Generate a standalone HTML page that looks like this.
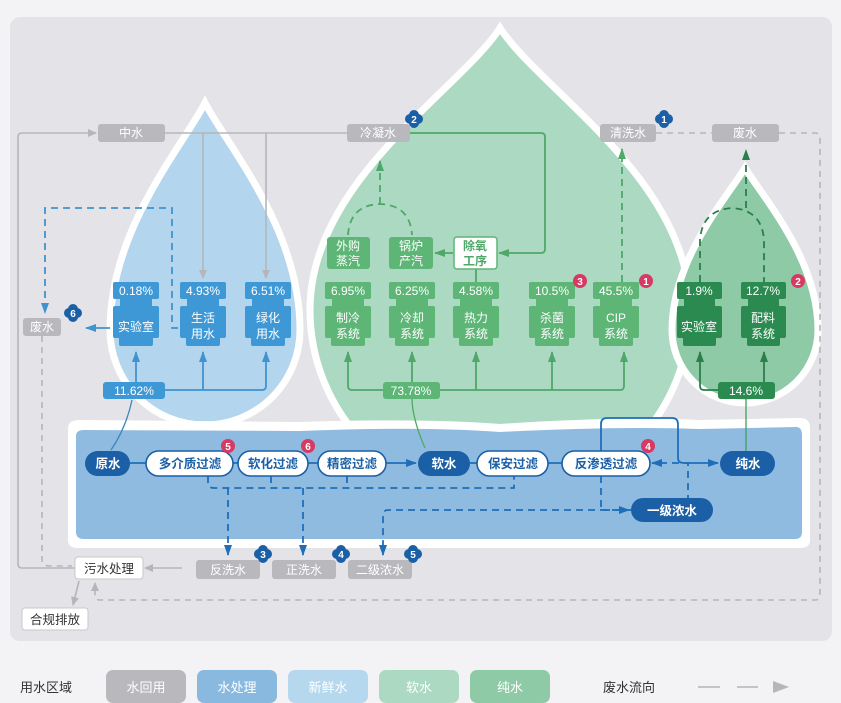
<!DOCTYPE html>
<html><head><meta charset="utf-8"><style>
html,body{margin:0;padding:0;background:#f3f3f5;}
svg{display:block;}
text{font-family:"Liberation Sans","Noto Sans CJK SC",sans-serif;}
</style></head><body>
<svg width="841" height="703" viewBox="0 0 841 703" xmlns="http://www.w3.org/2000/svg">
<defs>
<marker id="ag" markerWidth="10" markerHeight="10" refX="8" refY="5" orient="auto" markerUnits="userSpaceOnUse"><path d="M0,1 L9,5 L0,9 Z" fill="#b5b5ba"/></marker>
<marker id="ab" markerWidth="12" markerHeight="10" refX="10" refY="5" orient="auto" markerUnits="userSpaceOnUse"><path d="M0,1 L11,5 L0,9 Z" fill="#1f6fb8"/></marker>
<marker id="abl" markerWidth="12" markerHeight="10" refX="10" refY="5" orient="auto" markerUnits="userSpaceOnUse"><path d="M0,1 L11,5 L0,9 Z" fill="#3f93d0"/></marker>
<marker id="agr" markerWidth="12" markerHeight="10" refX="10" refY="5" orient="auto" markerUnits="userSpaceOnUse"><path d="M0,1 L11,5 L0,9 Z" fill="#4fa86a"/></marker>
<marker id="adg" markerWidth="12" markerHeight="10" refX="10" refY="5" orient="auto" markerUnits="userSpaceOnUse"><path d="M0,1 L11,5 L0,9 Z" fill="#2a7f4c"/></marker>
<g id="flower"><circle cx="-4" cy="0" r="5"/><circle cx="4" cy="0" r="5"/><circle cx="0" cy="-4" r="5"/><circle cx="0" cy="4" r="5"/></g>
</defs>

<rect x="10" y="17" width="822" height="624" rx="10" fill="#e4e4e8"/>

<!-- drops -->
<path d="M205,103 C230,150 300,230 300,330 A95,95 0 0 1 110,330 C110,230 180,150 205,103 Z" fill="#b3d6ee" stroke="#fff" stroke-width="7"/>
<path d="M500,28 C540,90 690,180 690,310 A190,190 0 0 1 310,310 C310,180 460,90 500,28 Z" fill="#acd9c1" stroke="#fff" stroke-width="7"/>
<path d="M745,168 C765,200 818,260 818,330 A73,73 0 0 1 672,330 C672,260 725,200 745,168 Z" fill="#8ecaa5" stroke="#fff" stroke-width="7"/>

<!-- water treatment panel -->
<path d="M68,428 Q68,420 80,420 L300,422 Q420,418 500,424 Q620,416 700,420 L800,418 Q810,418 810,428 L810,540 Q810,548 800,548 L78,548 Q68,548 68,540 Z" fill="#fff"/>
<path d="M76,436 Q76,430 84,430 L300,431 Q420,426 500,432 Q620,426 700,429 L796,427 Q802,427 802,435 L802,532 Q802,539 795,539 L84,539 Q76,539 76,532 Z" fill="#8fbbe0"/>

<!-- gray lines -->
<g fill="none" stroke="#b5b5ba" stroke-width="1.6">
<path d="M100,568 L22,568 Q18,568 18,564 L18,137 Q18,133 22,133 L96,133" marker-end="url(#ag)"/>
<path d="M165,133 L347,133"/>
<path d="M203,133 L203,278" marker-end="url(#ag)"/>
<path d="M266,133 L266,278" marker-end="url(#ag)"/>
<path d="M182,568 L145,568" marker-end="url(#ag)"/>
<path d="M79,581 L73,605" marker-end="url(#ag)"/>
<path d="M42,336 L42,560 Q42,566 50,566 L72,566" stroke-dasharray="6,5"/>
<path d="M656,133 L712,133 M779,133 L815,133 Q820,133 820,138 L820,595 Q820,600 815,600 L100,600 Q95,600 95,595 L95,583" stroke-dasharray="6,5" marker-end="url(#ag)"/>
</g>

<!-- blue drop lines -->
<g fill="none" stroke="#3f93d0" stroke-width="1.8">
<path d="M165,390 L262,390 Q266,390 266,386 L266,352" marker-end="url(#abl)"/>
<path d="M203,390 L203,352" marker-end="url(#abl)"/>
<path d="M136,382 L136,352" marker-end="url(#abl)"/>
<path d="M111,450 Q126,428 132,400" stroke="#3c86b8" stroke-width="1.3"/>
<path d="M110,328 L86,328" marker-end="url(#abl)"/>
<path d="M178,328 L172,328 L172,208 L45,208 L45,313" stroke-dasharray="7,5" marker-end="url(#abl)"/>
</g>

<!-- green lines -->
<g fill="none" stroke="#4fa86a" stroke-width="1.8">
<path d="M440,390 L620,390 Q624,390 624,386 L624,352" marker-end="url(#agr)"/>
<path d="M383,390 L352,390 Q348,390 348,386 L348,352" marker-end="url(#agr)"/>
<path d="M412,382 L412,352" marker-end="url(#agr)"/>
<path d="M476,390 L476,352" marker-end="url(#agr)"/>
<path d="M552,390 L552,352" marker-end="url(#agr)"/>
<path d="M476,282 L476,268"/>
<path d="M410,133 L541,133 Q545,133 545,137 L545,249 Q545,253 541,253 L499,253" marker-end="url(#agr)"/>
<path d="M453,253 L435,253" marker-end="url(#agr)"/>
<path d="M348,235 Q350,205 380,204 Q410,205 412,235" stroke-dasharray="7,5"/>
<path d="M380,204 L380,161" stroke-dasharray="7,5" marker-end="url(#agr)"/>
<path d="M622,282 L622,149" stroke-dasharray="7,5" marker-end="url(#agr)"/>
<path d="M412,398 Q412,418 425,448" stroke="#52a860" stroke-width="1.3"/>
</g>
<g fill="none" stroke="#2a7f4c" stroke-width="1.8">
<path d="M718,390 L704,390 Q700,390 700,386 L700,352" marker-end="url(#adg)"/>
<path d="M775,390 L760,390 Q764,390 764,386 L764,352" marker-end="url(#adg)"/>
<path d="M700,282 L700,240 Q702,210 732,208 Q762,210 764,240 L764,282" stroke-dasharray="7,5"/>
<path d="M746,208 L746,150" stroke-dasharray="7,5" marker-end="url(#adg)"/>
<path d="M746,398 L746,452" stroke="#3aa05c" stroke-width="1.3"/>
</g>

<!-- process lines -->
<g fill="none" stroke="#1f6fb8" stroke-width="1.8">
<path d="M128,463 L148,463 M232,463 L240,463 M306,463 L318,463"/>
<path d="M386,463 L416,463" marker-end="url(#ab)"/>
<path d="M470,463 L478,463 M548,463 L562,463"/>
<path d="M601,451 L601,424 Q601,418 607,418 L672,418 Q678,418 678,424 L678,458 Q678,463 684,463 L718,463" marker-end="url(#ab)"/>
<g stroke-dasharray="7,5">
<path d="M688,502 L688,463 L652,463" marker-end="url(#ab)"/>
<path d="M601,476 L601,510 L629,510" marker-end="url(#ab)"/>
<path d="M631,510 L388,510 Q383,510 383,516 L383,555" marker-end="url(#ab)"/>
<path d="M208,476 L208,482 Q208,488 214,488 L514,488 L514,476"/>
<path d="M271,476 L271,488 M347,476 L347,488"/>
<path d="M228,488 L228,555" marker-end="url(#ab)"/>
<path d="M303,488 L303,555" marker-end="url(#ab)"/>
</g>
</g>

<!-- gray labels -->
<g fill="#b9b9bd">
<rect x="98" y="124" width="67" height="18" rx="3"/>
<rect x="347" y="124" width="63" height="18" rx="3"/>
<rect x="600" y="124" width="56" height="18" rx="3"/>
<rect x="712" y="124" width="67" height="18" rx="3"/>
<rect x="23" y="318" width="38" height="18" rx="3"/>
<rect x="196" y="560" width="64" height="19" rx="3"/>
<rect x="272" y="560" width="64" height="19" rx="3"/>
<rect x="348" y="560" width="64" height="19" rx="3"/>
</g>
<g fill="#fff" font-size="12" text-anchor="middle">
<text x="131" y="137">中水</text><text x="378" y="137">冷凝水</text><text x="628" y="137">清洗水</text><text x="745" y="137">废水</text><text x="42" y="331">废水</text>
<text x="228" y="574">反洗水</text><text x="304" y="574">正洗水</text><text x="380" y="574">二级浓水</text>
</g>
<rect x="75" y="557" width="68" height="22" rx="3" fill="#fff" stroke="#c8c8cc"/>
<text x="109" y="573" font-size="12.5" text-anchor="middle" fill="#333">污水处理</text>
<rect x="22" y="608" width="66" height="22" rx="3" fill="#fff" stroke="#c8c8cc"/>
<text x="55" y="624" font-size="12.5" text-anchor="middle" fill="#333">合规排放</text>

<!-- bottle nodes -->
<g fill="#3f98d6">
<g transform="translate(113,282)"><rect width="46" height="17" rx="2"/><rect x="7" y="14" width="32" height="12"/><rect y="24" width="46" height="32" rx="2"/><rect x="6" y="54" width="34" height="10" rx="2"/></g>
<g transform="translate(180,282)"><rect width="46" height="17" rx="2"/><rect x="7" y="14" width="32" height="12"/><rect y="24" width="46" height="32" rx="2"/><rect x="6" y="54" width="34" height="10" rx="2"/></g>
<g transform="translate(245,282)"><rect width="46" height="17" rx="2"/><rect x="7" y="14" width="32" height="12"/><rect y="24" width="46" height="32" rx="2"/><rect x="6" y="54" width="34" height="10" rx="2"/></g>
</g>
<g fill="#5db576">
<g transform="translate(325,282)"><rect width="46" height="17" rx="2"/><rect x="7" y="14" width="32" height="12"/><rect y="24" width="46" height="32" rx="2"/><rect x="6" y="54" width="34" height="10" rx="2"/></g>
<g transform="translate(389,282)"><rect width="46" height="17" rx="2"/><rect x="7" y="14" width="32" height="12"/><rect y="24" width="46" height="32" rx="2"/><rect x="6" y="54" width="34" height="10" rx="2"/></g>
<g transform="translate(453,282)"><rect width="46" height="17" rx="2"/><rect x="7" y="14" width="32" height="12"/><rect y="24" width="46" height="32" rx="2"/><rect x="6" y="54" width="34" height="10" rx="2"/></g>
<g transform="translate(529,282)"><rect width="46" height="17" rx="2"/><rect x="7" y="14" width="32" height="12"/><rect y="24" width="46" height="32" rx="2"/><rect x="6" y="54" width="34" height="10" rx="2"/></g>
<g transform="translate(593,282)"><rect width="46" height="17" rx="2"/><rect x="7" y="14" width="32" height="12"/><rect y="24" width="46" height="32" rx="2"/><rect x="6" y="54" width="34" height="10" rx="2"/></g>
<rect x="327" y="237" width="43" height="32" rx="3"/><rect x="389" y="237" width="44" height="32" rx="3"/>
</g>
<rect x="454" y="237" width="43" height="32" rx="3" fill="#fff" stroke="#5db576" stroke-width="1.5"/>
<g fill="#2b8a50">
<g transform="translate(677,282)"><rect width="45" height="17" rx="2"/><rect x="7" y="14" width="31" height="12"/><rect y="24" width="45" height="32" rx="2"/><rect x="6" y="54" width="33" height="10" rx="2"/></g>
<g transform="translate(741,282)"><rect width="45" height="17" rx="2"/><rect x="7" y="14" width="31" height="12"/><rect y="24" width="45" height="32" rx="2"/><rect x="6" y="54" width="33" height="10" rx="2"/></g>
</g>
<g fill="#fff" font-size="12" text-anchor="middle">
<text x="136" y="295">0.18%</text><text x="203" y="295">4.93%</text><text x="268" y="295">6.51%</text>
<text x="136" y="331">实验室</text>
<text x="203" y="322">生活</text><text x="203" y="338">用水</text>
<text x="268" y="322">绿化</text><text x="268" y="338">用水</text>
<text x="348" y="295">6.95%</text><text x="412" y="295">6.25%</text><text x="476" y="295">4.58%</text><text x="552" y="295">10.5%</text><text x="616" y="295">45.5%</text>
<text x="348" y="322">制冷</text><text x="348" y="338">系统</text>
<text x="412" y="322">冷却</text><text x="412" y="338">系统</text>
<text x="476" y="322">热力</text><text x="476" y="338">系统</text>
<text x="552" y="322">杀菌</text><text x="552" y="338">系统</text>
<text x="616" y="322">CIP</text><text x="616" y="338">系统</text>
<text x="348" y="250">外购</text><text x="348" y="265">蒸汽</text>
<text x="411" y="250">锅炉</text><text x="411" y="265">产汽</text>
<text x="699" y="295">1.9%</text><text x="763" y="295">12.7%</text>
<text x="699" y="331">实验室</text>
<text x="763" y="322">配料</text><text x="763" y="338">系统</text>
</g>
<g fill="#4fa86a" font-size="12" text-anchor="middle" font-weight="bold"><text x="475" y="250">除氧</text><text x="475" y="265">工序</text></g>

<!-- percentage pills -->
<rect x="103" y="382" width="62" height="17" rx="3" fill="#3f98d6"/><text x="134" y="395" font-size="12" fill="#fff" text-anchor="middle">11.62%</text>
<rect x="383" y="382" width="57" height="17" rx="3" fill="#5db576"/><text x="411" y="395" font-size="12" fill="#fff" text-anchor="middle">73.78%</text>
<rect x="718" y="382" width="57" height="17" rx="3" fill="#2b8a50"/><text x="746" y="395" font-size="12" fill="#fff" text-anchor="middle">14.6%</text>

<!-- process nodes -->
<g fill="#1b5fa6">
<rect x="85" y="451" width="45" height="25" rx="12.5"/>
<rect x="418" y="451" width="52" height="25" rx="12.5"/>
<rect x="720" y="451" width="55" height="25" rx="12.5"/>
<rect x="631" y="498" width="82" height="24" rx="12"/>
</g>
<g fill="#fff" stroke="#1b5fa6" stroke-width="1.6">
<rect x="146" y="451" width="87" height="25" rx="12.5"/>
<rect x="238" y="451" width="70" height="25" rx="12.5"/>
<rect x="318" y="451" width="68" height="25" rx="12.5"/>
<rect x="477" y="451" width="71" height="25" rx="12.5"/>
<rect x="562" y="451" width="88" height="25" rx="12.5"/>
</g>
<g font-size="12.5" font-weight="bold" text-anchor="middle">
<g fill="#fff"><text x="108" y="468">原水</text><text x="444" y="468">软水</text><text x="748" y="468">纯水</text><text x="672" y="515">一级浓水</text></g>
<g fill="#1b5fa6"><text x="190" y="468">多介质过滤</text><text x="273" y="468">软化过滤</text><text x="352" y="468">精密过滤</text><text x="513" y="468">保安过滤</text><text x="606" y="468">反渗透过滤</text></g>
</g>

<!-- badges -->
<g fill="#1b5fa6">
<use href="#flower" x="414" y="119"/><use href="#flower" x="664" y="119"/><use href="#flower" x="73" y="313"/>
<use href="#flower" x="263" y="554"/><use href="#flower" x="341" y="554"/><use href="#flower" x="413" y="554"/>
</g>
<g fill="#fff" font-size="10" font-weight="bold" text-anchor="middle">
<text x="414" y="123">2</text><text x="664" y="123">1</text><text x="73" y="317">6</text>
<text x="263" y="558">3</text><text x="341" y="558">4</text><text x="413" y="558">5</text>
</g>
<g fill="#d63a63">
<circle cx="228" cy="446" r="7"/><circle cx="308" cy="446" r="7"/><circle cx="648" cy="446" r="7"/>
<circle cx="580" cy="281" r="7"/><circle cx="646" cy="281" r="7"/><circle cx="798" cy="281" r="7"/>
</g>
<g fill="#fff" font-size="10" font-weight="bold" text-anchor="middle">
<text x="228" y="450">5</text><text x="308" y="450">6</text><text x="648" y="450">4</text>
<text x="580" y="285">3</text><text x="646" y="285">1</text><text x="798" y="285">2</text>
</g>

<!-- legend -->
<text x="20" y="692" font-size="13" fill="#333">用水区域</text>
<rect x="106" y="670" width="80" height="33" rx="7" fill="#b9b9bd"/>
<rect x="197" y="670" width="80" height="33" rx="7" fill="#8ab9e0"/>
<rect x="288" y="670" width="80" height="33" rx="7" fill="#b5d8ef"/>
<rect x="379" y="670" width="80" height="33" rx="7" fill="#acd9c1"/>
<rect x="470" y="670" width="80" height="33" rx="7" fill="#8ecaa5"/>
<g fill="#fff" font-size="13" text-anchor="middle"><text x="146" y="692">水回用</text><text x="237" y="692">水处理</text><text x="328" y="692">新鲜水</text><text x="419" y="692">软水</text><text x="510" y="692">纯水</text></g>
<text x="603" y="692" font-size="13" fill="#333">废水流向</text>
<path d="M698,687 L720,687 M737,687 L758,687" stroke="#b5b5ba" stroke-width="1.6"/>
<path d="M773,681 L789,687 L773,693 Z" fill="#b5b5ba"/>
</svg>
</body></html>
